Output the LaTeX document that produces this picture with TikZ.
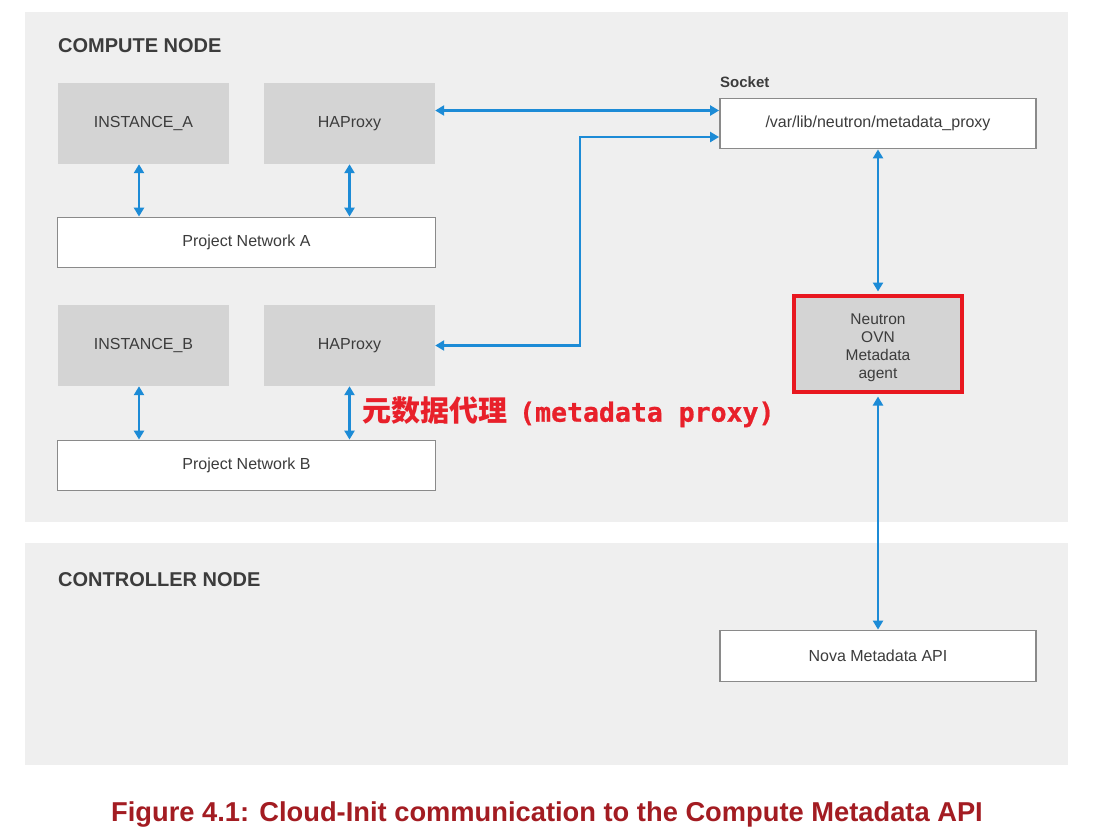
\documentclass[tikz,border=0pt]{standalone}
\usepackage{fontspec}
\setmainfont{Liberation Sans}
\newfontfamily\cjk{Noto Sans CJK SC}
\newfontfamily\monob{DejaVu Sans Mono}[BoldFeatures={FakeBold=0.8}]
\usetikzlibrary{arrows.meta}
\definecolor{panel}{HTML}{EFEFEF}
\definecolor{grbox}{HTML}{D4D4D4}
\definecolor{txt}{HTML}{3C3C3C}
\definecolor{bord}{HTML}{8A8A8A}
\definecolor{arrblue}{HTML}{1C8BD6}
\definecolor{redbox}{HTML}{E8171F}
\definecolor{redtxt}{HTML}{E8202A}
\definecolor{capred}{HTML}{A31C22}
\tikzset{
  panelbox/.style={fill=panel, draw=none},
  graybox/.style={fill=grbox, draw=none, minimum width=171pt, minimum height=81pt, inner sep=0pt,
    text=txt, font=\fontsize{16}{19}\selectfont},
  whitebox/.style={fill=white, draw=bord, line width=1.8pt, inner sep=0pt,
    text=txt, font=\fontsize{16}{19}\selectfont},
  heading/.style={anchor=west, text=txt, inner sep=0pt, font=\fontsize{20}{24}\selectfont\bfseries},
  arr/.style={draw=arrblue, line width=2.3pt, {Triangle[length=9pt,width=10pt]}-{Triangle[length=9pt,width=10pt]}},
}
\begin{document}
\begin{tikzpicture}[x=1pt,y=-1pt]
\useasboundingbox (0,0) rectangle (1094,831);
\fill[white] (0,0) rectangle (1094,831);
% panels
\path[panelbox] (25,12) rectangle (1068,522);
\path[panelbox] (25,543) rectangle (1068,765);
\node[heading] (hcomp) at (58,46) {COMPUTE NODE};
\node[heading] (hctrl) at (58,580) {CONTROLLER NODE};
% compute boxes
\node[graybox] (instA) at (143.5,123.5) {INSTANCE\_A};
\node[graybox] (haA) at (349.5,123.5) {HAProxy};
\node[whitebox, minimum width=378pt, minimum height=50pt] (netA) at (246.5,242.5) {Project Network A};
\node[graybox] (instB) at (143.5,345.5) {INSTANCE\_B};
\node[graybox] (haB) at (349.5,345.5) {HAProxy};
\node[whitebox, minimum width=378pt, minimum height=50pt] (netB) at (246.5,465.5) {Project Network B};
% socket
\node[anchor=west, inner sep=0pt, text=txt, font=\fontsize{15}{18}\selectfont\bfseries] (socklbl) at (720,82) {Socket};
\node[whitebox, minimum width=316pt, minimum height=50pt] (sock) at (878,123.5) {/var/lib/neutron/metadata\_proxy};
% neutron agent
\node[fill=grbox, draw=redbox, line width=4.5pt, minimum width=168pt, minimum height=96pt, inner sep=0pt,
  text=txt, align=center, font=\fontsize{15.5}{18}\selectfont] (agent) at (878,344)
  {\rule{0pt}{19pt}Neutron\\OVN\\Metadata\\agent};
% nova
\node[whitebox, minimum width=316pt, minimum height=51pt] (nova) at (878,656) {Nova Metadata API};
% connectors
\draw[arr] (instA.south -| 139,0) -- (netA.north -| 139,0);
\draw[arr] (haA.south) -- (netA.north -| haA.south);
\draw[arr] (instB.south -| 139,0) -- (netB.north -| 139,0);
\draw[arr] (haB.south) -- (netB.north -| haB.south);
\draw[arr] ([yshift=13pt]haA.east) -- ([yshift=13pt]haA.east -| sock.west);
\draw[arr] (haB.east) -- ++(145,0) |- ([yshift=-13.5pt]sock.west);
\draw[arr] (sock.south) -- ([yshift=2.25pt]agent.north);
\draw[arr] ([yshift=-2.25pt]agent.south) -- (nova.north);
% annotation
\node[anchor=west, inner sep=0pt, text=redtxt] (note) at (362,412)
  {{\cjk\bfseries\fontsize{29}{32}\selectfont 元数据代理}\hspace{12pt}{\monob\bfseries\fontsize{26.5}{30}\selectfont (metadata proxy)}};
% caption
\node[text=capred, inner sep=0pt, font=\fontsize{27.3}{30}\selectfont\bfseries] (cap) at (547,814)
  {Figure 4.1: Cloud-Init communication to the Compute Metadata API};
\end{tikzpicture}
\end{document}
